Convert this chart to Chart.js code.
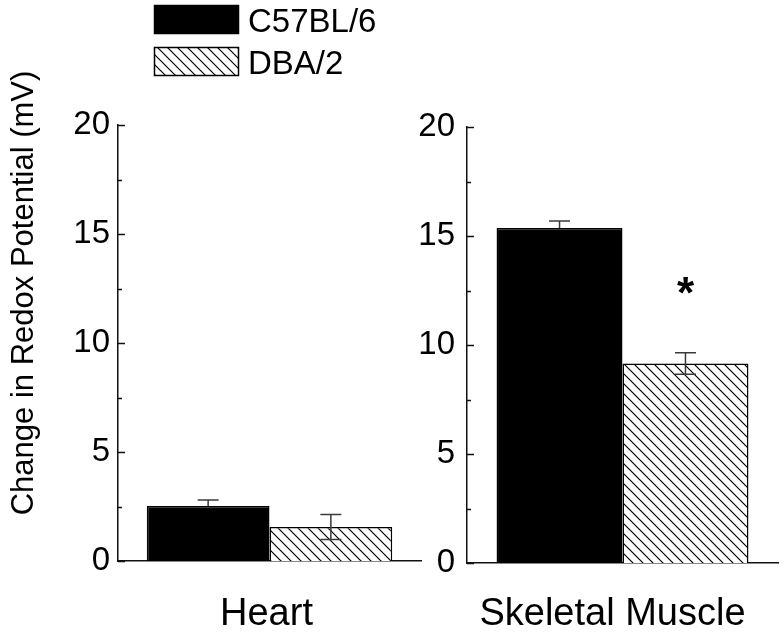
<!DOCTYPE html>
<html>
<head>
<meta charset="utf-8">
<title>Change in Redox Potential</title>
<script src="https://cdn.jsdelivr.net/npm/chart.js@4"></script>
<style>
    html, body { margin: 0; padding: 0; background: #fff; }
    #wrap { position: relative; width: 783px; height: 635px; overflow: hidden; }
    #chart-heart { position: absolute; left: 0; top: 0; }
    #chart-muscle { position: absolute; left: 400px; top: 0; }
</style>
</head>
<body>
<div id="wrap">
    <canvas id="chart-heart" width="430" height="635"></canvas>
    <canvas id="chart-muscle" width="383" height="635"></canvas>
</div>
<script>
const categories = ['Heart', 'Skeletal Muscle'];
const seriesNames = ['C57BL/6', 'DBA/2'];
const c57Values = [2.52, 15.37];
const c57Errors = [0.28, 0.32];
const dbaValues = [1.56, 9.15];
const dbaErrors = [0.57, 0.49];
const significance = ['', '*'];
const yTicks = [0, 5, 10, 15, 20];
const yTitle = 'Change in Redox Potential (mV)';

const FONT = '"Liberation Sans", Arial, sans-serif';

function makeHatch() {
    const c = document.createElement('canvas');
    c.width = 10;
    c.height = 10;
    const g = c.getContext('2d');
    g.fillStyle = '#fff';
    g.fillRect(0, 0, 10, 10);
    g.strokeStyle = '#000';
    g.lineWidth = 1.2;
    g.beginPath();
    g.moveTo(-1, -1); g.lineTo(11, 11);
    g.moveTo(-1, 9); g.lineTo(1, 11);
    g.moveTo(9, -1); g.lineTo(11, 1);
    g.stroke();
    return g.createPattern(c, 'repeat');
}
const hatch = makeHatch();

// error bars, drawn on top of the bars
const errorBars = {
    id: 'errorBars',
    afterDatasetsDraw(chart) {
        const ctx = chart.ctx;
        const y = chart.scales.y;
        chart.data.datasets.forEach((ds, di) => {
            const meta = chart.getDatasetMeta(di);
            meta.data.forEach((bar, i) => {
                const v = ds.data[i], e = ds.errors[i];
                const top = y.getPixelForValue(v + e);
                const bot = y.getPixelForValue(v - e);
                const w = 10.5;
                ctx.save();
                ctx.strokeStyle = '#3a3a3a';
                ctx.lineWidth = 1.5;
                ctx.beginPath();
                ctx.moveTo(bar.x, top);
                ctx.lineTo(bar.x, ds.lowerError ? bot : bar.y);
                ctx.moveTo(bar.x - w, top); ctx.lineTo(bar.x + w, top);
                if (ds.lowerError) {
                    ctx.moveTo(bar.x - w, bot); ctx.lineTo(bar.x + w, bot);
                }
                ctx.stroke();
                ctx.restore();
            });
        });
    }
};

// ticks on the y axis point inward
const innerTicks = {
    id: 'innerTicks',
    afterDraw(chart) {
        const ctx = chart.ctx;
        const y = chart.scales.y;
        const left = chart.chartArea.left;
        ctx.save();
        ctx.strokeStyle = '#111';
        ctx.lineWidth = 1.3;
        ctx.beginPath();
        y.ticks.forEach(t => {
            const py = Math.round(y.getPixelForValue(t.value)) + 0.5;
            const len = yTicks.includes(t.value) ? 7 : 4;
            ctx.moveTo(left, py);
            ctx.lineTo(left + len, py);
        });
        ctx.stroke();
        ctx.restore();
    }
};

// star over the DBA/2 bar when significant
const starMark = {
    id: 'starMark',
    afterDatasetsDraw(chart) {
        const idx = chart.$catIndex;
        if (!significance[idx]) return;
        const ctx = chart.ctx;
        const y = chart.scales.y;
        const ds = chart.data.datasets[1];
        const bar = chart.getDatasetMeta(1).data[0];
        const errTop = y.getPixelForValue(ds.data[0] + ds.errors[0]);
        ctx.save();
        ctx.fillStyle = '#000';
        ctx.font = 'bold 44px ' + FONT;
        ctx.textAlign = 'center';
        ctx.textBaseline = 'middle';
        ctx.fillText(significance[idx], bar.x, errTop - 57);
        ctx.restore();
    }
};

const legendBoxes = {
    id: 'legendBoxes',
    afterDraw(chart) {
        if (chart.$catIndex !== 0) return;
        const ctx = chart.ctx;
        ctx.save();
        chart.data.datasets.forEach((ds, i) => {
            const top = 5 + i * 42;
            ctx.fillStyle = ds.backgroundColor;
            ctx.fillRect(154, top, 84, 28);
            ctx.strokeStyle = '#000';
            ctx.lineWidth = 1.5;
            ctx.strokeRect(154.5, top + 0.5, 84, 28);
            ctx.fillStyle = '#000';
            ctx.font = '33px ' + FONT;
            ctx.textAlign = 'left';
            ctx.textBaseline = 'alphabetic';
            ctx.fillText(ds.label, 248, top + 27);
        });
        ctx.restore();
    }
};

const axisTitle = {
    id: 'axisTitle',
    afterDraw(chart) {
        if (chart.$catIndex !== 0) return;
        const ctx = chart.ctx;
        ctx.save();
        ctx.translate(33, 293);
        ctx.rotate(-Math.PI / 2);
        ctx.fillStyle = '#000';
        ctx.font = '31px ' + FONT;
        ctx.textAlign = 'center';
        ctx.textBaseline = 'alphabetic';
        ctx.fillText(yTitle, 0, 0);
        ctx.restore();
    }
};

function makePanel(canvasId, idx, layout) {
    const chart = new Chart(document.getElementById(canvasId), {
        type: 'bar',
        data: {
            labels: [categories[idx]],
            datasets: [
                {
                    label: seriesNames[0],
                    data: [c57Values[idx]],
                    errors: [c57Errors[idx]],
                    lowerError: false,
                    backgroundColor: '#000',
                    borderColor: '#000',
                    borderWidth: 1.5,
                    categoryPercentage: 0.81,
                    barPercentage: 1.0
                },
                {
                    label: seriesNames[1],
                    data: [dbaValues[idx]],
                    errors: [dbaErrors[idx]],
                    lowerError: true,
                    backgroundColor: hatch,
                    borderColor: '#000',
                    borderWidth: 1.5,
                    categoryPercentage: 0.81,
                    barPercentage: 1.0
                }
            ]
        },
        options: {
            responsive: false,
            animation: false,
            devicePixelRatio: 1,
            layout: { padding: { top: layout.top, right: layout.right, left: 0, bottom: 0 } },
            plugins: {
                legend: { display: false },
                tooltip: { enabled: false }
            },
            scales: {
                x: {
                    grid: { display: false, drawTicks: false },
                    border: { display: true, color: '#111', width: 1.5 },
                    ticks: {
                        color: '#000',
                        font: { family: FONT, size: 38 },
                        padding: layout.xPad,
                        labelOffset: layout.labelOffset,
                        maxRotation: 0
                    },
                    afterFit: (scale) => {
                        scale.height = layout.xHeight;
                        scale.paddingLeft = 0;
                        scale.paddingRight = 0;
                    }
                },
                y: {
                    min: 0,
                    max: 20,
                    grid: { display: false, drawTicks: false },
                    border: { display: true, color: '#111', width: 1.5 },
                    ticks: {
                        stepSize: 2.5,
                        autoSkip: false,
                        color: '#000',
                        font: { family: FONT, size: 33 },
                        padding: layout.yPad,
                        callback: (v) => yTicks.includes(v) ? String(v) : ''
                    },
                    afterFit: (scale) => {
                        scale.width = layout.yWidth;
                        scale.paddingTop = 0;
                        scale.paddingBottom = 0;
                    }
                }
            }
        },
        plugins: [errorBars, innerTicks, starMark, legendBoxes, axisTitle]
    });
    chart.$catIndex = idx;
    chart.update();
    return chart;
}

makePanel('chart-heart', 0, { top: 125, right: 9, xHeight: 74, yWidth: 118, yPad: 8, xPad: 31, labelOffset: -3 });
makePanel('chart-muscle', 1, { top: 127, right: 5, xHeight: 72, yWidth: 67, yPad: 12, xPad: 29, labelOffset: -10 });
</script>
</body>
</html>
